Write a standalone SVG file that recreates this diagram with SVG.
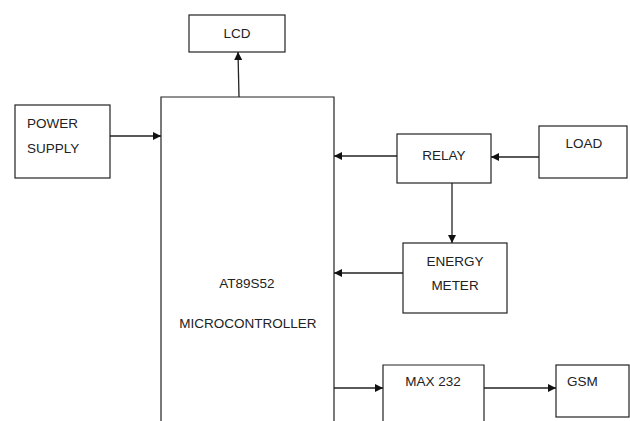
<svg xmlns="http://www.w3.org/2000/svg" width="630" height="421" viewBox="0 0 630 421">
<style>
.box{fill:#fff;stroke:#222;stroke-width:1.2}
.t{font-family:"Liberation Sans",Arial,sans-serif;font-size:13.5px;fill:#222}
.c{stroke:#222;stroke-width:1.3;fill:none;marker-end:url(#ah)}
</style>
<defs>
<marker id="ah" viewBox="0 0 10 10" refX="10" refY="5" markerWidth="8" markerHeight="8" markerUnits="userSpaceOnUse" orient="auto">
<path d="M0,0 L10,5 L0,10 z" fill="#111"/>
</marker>
</defs>
<rect width="630" height="421" fill="#fff"/>
<g id="lcd"><rect class="box" x="189" y="15" width="96" height="37"/><text class="t" x="237" y="38" text-anchor="middle">LCD</text></g>
<g id="mcu"><path class="box" d="M161,425 L161,97 L334,97 L334,425"/><text class="t" x="247" y="288" text-anchor="middle">AT89S52</text><text class="t" x="248" y="328" text-anchor="middle">MICROCONTROLLER</text></g>
<g id="power"><rect class="box" x="15" y="105" width="95" height="73"/><text class="t" x="27" y="128">POWER</text><text class="t" x="27" y="153">SUPPLY</text></g>
<g id="relay"><rect class="box" x="397" y="134" width="94" height="49"/><text class="t" x="444" y="160" text-anchor="middle">RELAY</text></g>
<g id="load"><rect class="box" x="539" y="126" width="88" height="52"/><text class="t" x="584" y="148" text-anchor="middle">LOAD</text></g>
<g id="energy"><rect class="box" x="403" y="243" width="104" height="70"/><text class="t" x="455" y="266" text-anchor="middle">ENERGY</text><text class="t" x="455" y="290" text-anchor="middle">METER</text></g>
<g id="max232"><path class="box" d="M383,425 L383,365 L484,365 L484,425"/><text class="t" x="433" y="386" text-anchor="middle">MAX 232</text></g>
<g id="gsm"><rect class="box" x="556" y="365" width="73" height="52"/><text class="t" x="567" y="386">GSM</text></g>
<g id="connectors">
<path class="c" d="M239,97 L238,52"/>
<path class="c" d="M110,136 L161,136"/>
<path class="c" d="M539,157 L491,157"/>
<path class="c" d="M397,156 L334,156"/>
<path class="c" d="M452,183 L452,243"/>
<path class="c" d="M403,273 L334,273"/>
<path class="c" d="M334,388 L383,388"/>
<path class="c" d="M484,388 L556,388"/>
</g>
</svg>
